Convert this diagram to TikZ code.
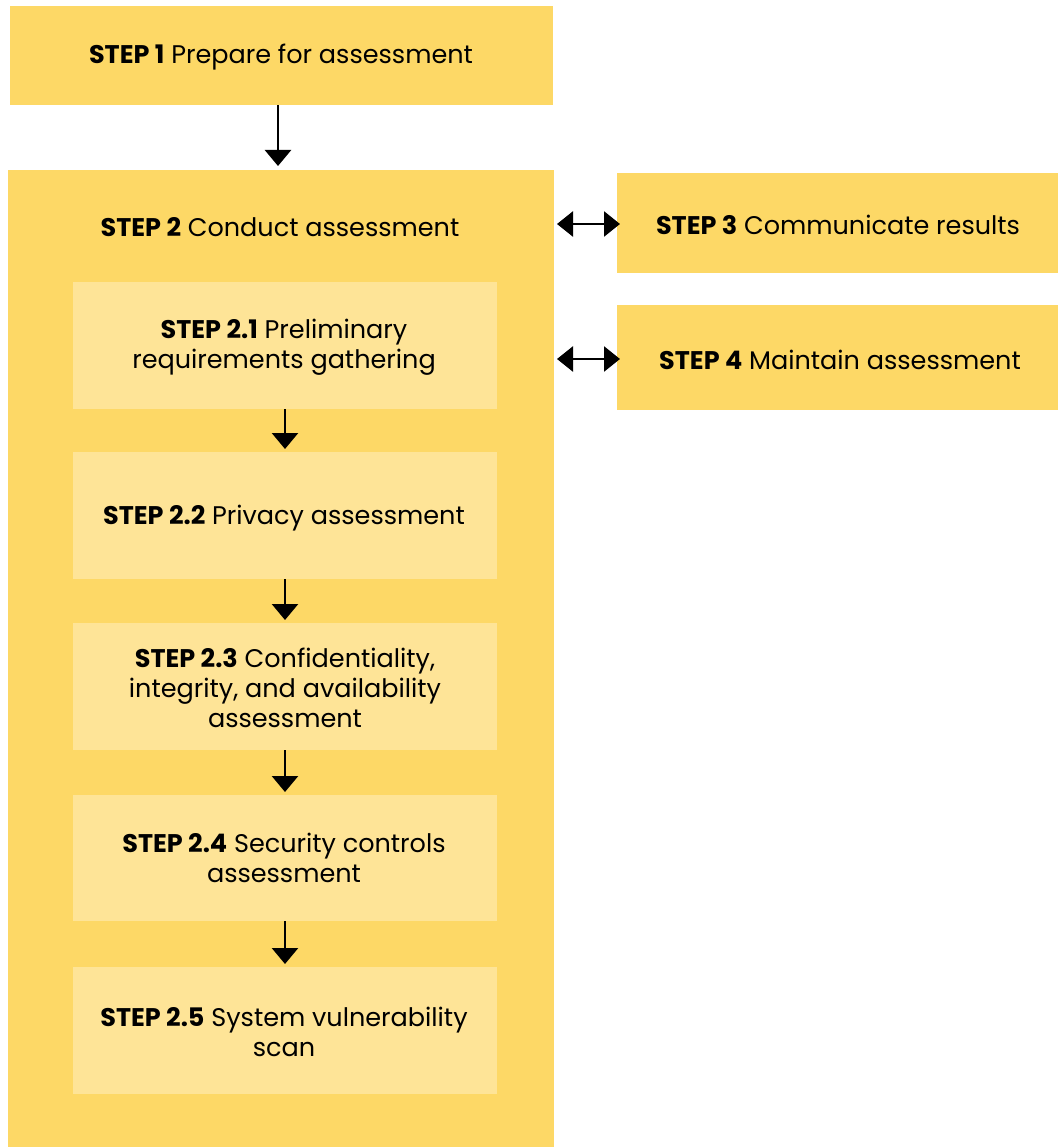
\documentclass[tikz,border=0pt]{standalone}
\usepackage{fontspec}
\setmainfont{Poppins}
\usetikzlibrary{arrows.meta}
\definecolor{outerY}{HTML}{FDD866}
\definecolor{innerY}{HTML}{FEE497}
\begin{document}
\begin{tikzpicture}[x=1pt,y=-1pt,
  outerbox/.style={fill=outerY,draw=none},
  innerbox/.style={fill=innerY,draw=none},
  lbl/.style={font=\fontsize{25.5}{30}\selectfont,align=center,text=black},
  conn/.style={line width=2.6pt,-{Triangle[width=26pt,length=16pt]}},
  biconn/.style={line width=2.6pt,{Triangle[width=25pt,length=16pt]}-{Triangle[width=25pt,length=16pt]}}]
\useasboundingbox (0,0) rectangle (1058,1147);
% boxes
\path[outerbox] (10,6) rectangle (553,105);
\coordinate (s1b) at (278,105);
\path[outerbox] (8,170) rectangle (554,1147);
\coordinate (s2t) at (278,166);
\path[outerbox] (617,173) rectangle (1058,273);
\path[outerbox] (617,305) rectangle (1058,410);
\node[lbl] (t1) at (281,57) {\textbf{STEP 1} Prepare for assessment};
\node[lbl] (t2) at (280,227) {\textbf{STEP 2} Conduct assessment};
\node[lbl] (t3) at (838,225) {\textbf{STEP 3} Communicate results};
\node[lbl] (t4) at (840,360) {\textbf{STEP 4} Maintain assessment};
\coordinate (a3l) at (557,224);
\coordinate (a3r) at (620,224);
\coordinate (a4l) at (557,359);
\coordinate (a4r) at (620,359);
% inner boxes
\path[innerbox] (73,282) rectangle (497,409);
\path[innerbox] (73,452) rectangle (497,579);
\path[innerbox] (73,623) rectangle (497,750);
\path[innerbox] (73,795) rectangle (497,921);
\path[innerbox] (73,967) rectangle (497,1094);
\node[lbl] (b1) at (284,347) {\textbf{STEP 2.1} Preliminary\\requirements gathering};
\node[lbl] (b2) at (284,518) {\textbf{STEP 2.2} Privacy assessment};
\node[lbl] (b3) at (285,688) {\textbf{STEP 2.3} Confidentiality,\\integrity, and availability\\assessment};
\node[lbl] (b4) at (284,858) {\textbf{STEP 2.4} Security controls\\assessment};
\node[lbl] (b5) at (284,1032) {\textbf{STEP 2.5} System vulnerability\\scan};
\coordinate (c1b) at (285,409); \coordinate (c2t) at (285,449);
\coordinate (c2b) at (285,579); \coordinate (c3t) at (285,620);
\coordinate (c3b) at (285,750); \coordinate (c4t) at (285,792);
\coordinate (c4b) at (285,921); \coordinate (c5t) at (285,964);
% connectors
\draw[conn] (s1b) -- (s2t);
\draw[biconn] (a3l) -- (a3r);
\draw[biconn] (a4l) -- (a4r);
\draw[conn] (c1b) -- (c2t);
\draw[conn] (c2b) -- (c3t);
\draw[conn] (c3b) -- (c4t);
\draw[conn] (c4b) -- (c5t);
\end{tikzpicture}
\end{document}
